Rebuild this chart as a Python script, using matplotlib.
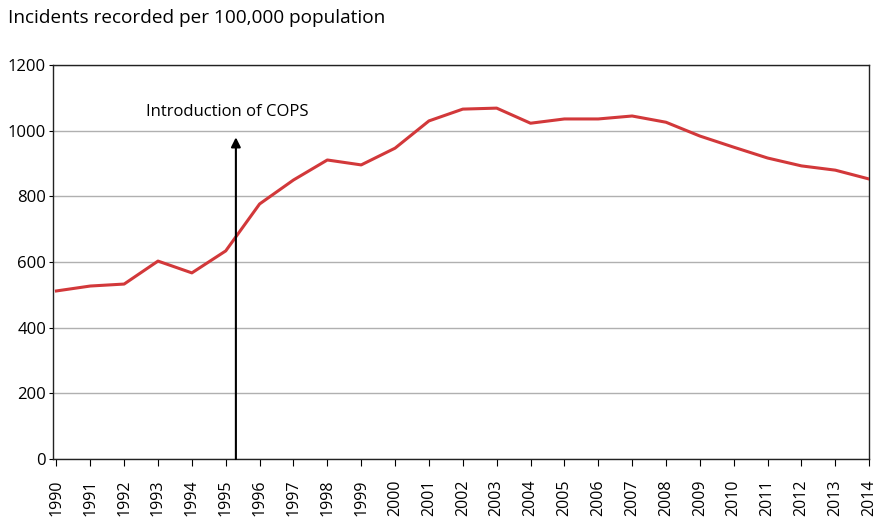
import matplotlib
matplotlib.use('Agg')
import matplotlib.pyplot as plt

plt.rcParams['font.family'] = ['Open Sans', 'DejaVu Sans']

# Data
years = list(range(1990, 2015))
incidents = [512, 527, 533, 603, 567, 634, 777, 850, 911, 896, 947, 1030, 1066,
             1069, 1023, 1036, 1036, 1045, 1026, 984, 950, 917, 893, 880, 853]
cops_year = 1995.3
cops_label = 'Introduction of COPS'

fig = plt.figure(figsize=(8.91, 5.21), dpi=100)
ax = fig.add_axes([0.0595, 0.119, 0.916, 0.756])

ax.plot(years, incidents, '-', color='#d2383a', linewidth=2.2, zorder=3)

# arrow for COPS
ax.annotate('', xy=(cops_year, 980), xytext=(cops_year, 0),
            arrowprops=dict(arrowstyle='-|>', color='black', lw=1.5,
                            mutation_scale=14, shrinkA=0, shrinkB=0), zorder=4)
ax.text(cops_year - 0.25, 1056, cops_label, ha='center', va='center', fontsize=12)

ax.set_xlim(1989.9, 2014)
ax.set_ylim(0, 1200)
ax.set_yticks(range(0, 1201, 200))
ax.set_xticks(years)
ax.set_xticklabels([str(y) for y in years], rotation=90, fontsize=11.5)
ax.tick_params(axis='y', labelsize=12, length=3, pad=2)
ax.tick_params(axis='x', length=5, pad=10)
ax.yaxis.grid(True, color='#b0b0b0', linewidth=1)
ax.set_axisbelow(True)
for s in ax.spines.values():
    s.set_color('#222222')
    s.set_linewidth(1)

fig.text(0.009, 0.965, 'Incidents recorded per 100,000 population', fontsize=13.7,
         ha='left', va='center')

fig.savefig('out.png', dpi=100)
